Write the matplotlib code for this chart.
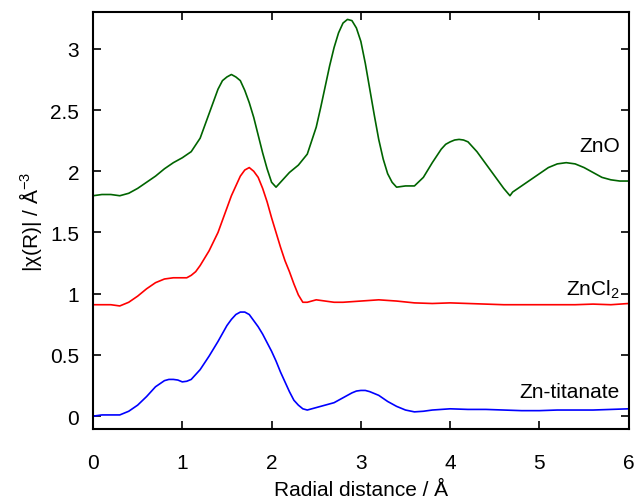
import matplotlib
matplotlib.use('Agg')
import matplotlib.pyplot as plt
from matplotlib.ticker import FuncFormatter

plt.rcParams['font.family'] = ['Liberation Sans', 'DejaVu Sans']
plt.rcParams['mathtext.fontset'] = 'custom'
plt.rcParams['mathtext.rm'] = 'Liberation Sans'
plt.rcParams['mathtext.it'] = 'Liberation Sans:italic'

# Fourier transformed EXAFS, |chi(R)| curves
r_zno = [0.0, 0.1, 0.2, 0.3, 0.4, 0.5, 0.6, 0.7, 0.8, 0.9, 1.0, 1.1, 1.2, 1.3, 1.35,
         1.4, 1.45, 1.5, 1.55, 1.6, 1.65, 1.7, 1.75, 1.8, 1.9, 1.95, 2.0, 2.05, 2.1,
         2.15, 2.2, 2.3, 2.4, 2.5, 2.55, 2.6, 2.65, 2.7, 2.75, 2.8, 2.85, 2.9, 2.95,
         3.0, 3.05, 3.1, 3.15, 3.2, 3.25, 3.3, 3.35, 3.4, 3.5, 3.6, 3.7, 3.8, 3.9,
         3.95, 4.0, 4.05, 4.1, 4.15, 4.2, 4.25, 4.3, 4.4, 4.5, 4.6, 4.67, 4.7, 4.8,
         4.9, 5.0, 5.1, 5.2, 5.3, 5.4, 5.5, 5.6, 5.7, 5.8, 5.9, 6.0]
zno = [1.80, 1.81, 1.81, 1.80, 1.82, 1.86, 1.91, 1.96, 2.02, 2.07, 2.11, 2.16, 2.27,
       2.47, 2.57, 2.67, 2.74, 2.77, 2.79, 2.77, 2.74, 2.66, 2.56, 2.44, 2.15, 2.02,
       1.91, 1.87, 1.91, 1.95, 1.99, 2.05, 2.14, 2.36, 2.52, 2.69, 2.86, 3.01, 3.13,
       3.21, 3.24, 3.23, 3.17, 3.06, 2.88, 2.67, 2.46, 2.26, 2.10, 1.98, 1.91, 1.87,
       1.88, 1.88, 1.95, 2.07, 2.18, 2.22, 2.24, 2.255, 2.26, 2.255, 2.24, 2.20, 2.16,
       2.06, 1.96, 1.86, 1.80, 1.83, 1.88, 1.93, 1.98, 2.03, 2.06, 2.07, 2.06, 2.03,
       1.99, 1.95, 1.93, 1.92, 1.92]

r_zncl2 = [0.0, 0.1, 0.2, 0.3, 0.4, 0.5, 0.6, 0.7, 0.8, 0.9, 1.0, 1.05, 1.1, 1.15,
           1.2, 1.3, 1.4, 1.45, 1.5, 1.55, 1.6, 1.65, 1.7, 1.75, 1.8, 1.85, 1.9, 1.95,
           2.0, 2.05, 2.1, 2.15, 2.2, 2.25, 2.3, 2.35, 2.4, 2.5, 2.6, 2.7, 2.8, 3.0,
           3.2, 3.4, 3.6, 3.8, 4.0, 4.2, 4.4, 4.6, 4.8, 5.0, 5.2, 5.4, 5.6, 5.8, 6.0]
zncl2 = [0.91, 0.91, 0.91, 0.90, 0.93, 0.98, 1.04, 1.09, 1.12, 1.13, 1.13, 1.13, 1.15,
         1.18, 1.23, 1.35, 1.50, 1.60, 1.70, 1.80, 1.88, 1.96, 2.01, 2.03, 2.00, 1.95,
         1.86, 1.75, 1.62, 1.50, 1.38, 1.27, 1.18, 1.08, 0.99, 0.93, 0.93, 0.95, 0.94,
         0.93, 0.93, 0.94, 0.95, 0.94, 0.925, 0.92, 0.925, 0.92, 0.915, 0.91, 0.91,
         0.91, 0.91, 0.91, 0.915, 0.91, 0.92]

r_ti = [0.0, 0.1, 0.2, 0.3, 0.4, 0.5, 0.6, 0.7, 0.8, 0.85, 0.9, 0.95, 1.0, 1.05, 1.1,
        1.2, 1.3, 1.4, 1.5, 1.55, 1.6, 1.65, 1.7, 1.75, 1.8, 1.85, 1.9, 1.95, 2.0,
        2.05, 2.1, 2.15, 2.2, 2.25, 2.3, 2.35, 2.4, 2.5, 2.6, 2.7, 2.8, 2.9, 2.95,
        3.0, 3.05, 3.1, 3.2, 3.3, 3.4, 3.5, 3.6, 3.7, 3.8, 4.0, 4.2, 4.4, 4.6, 4.8,
        5.0, 5.2, 5.4, 5.6, 5.8, 6.0]
titanate = [0.00, 0.01, 0.01, 0.01, 0.04, 0.09, 0.16, 0.24, 0.29, 0.30, 0.30, 0.295,
            0.28, 0.285, 0.30, 0.38, 0.49, 0.61, 0.74, 0.79, 0.83, 0.85, 0.85, 0.83,
            0.78, 0.73, 0.67, 0.60, 0.53, 0.45, 0.36, 0.28, 0.20, 0.13, 0.09, 0.06,
            0.05, 0.07, 0.09, 0.11, 0.15, 0.19, 0.205, 0.21, 0.21, 0.20, 0.17, 0.12,
            0.08, 0.05, 0.035, 0.04, 0.05, 0.06, 0.055, 0.055, 0.05, 0.045, 0.045,
            0.05, 0.05, 0.05, 0.055, 0.06]

fig = plt.figure(figsize=(6.37, 5.02), dpi=100)
ax = fig.add_axes([0.146, 0.1434, 0.841, 0.8306])

ax.plot(r_zno, zno, '-', color='#006400', lw=1.2)
ax.plot(r_zncl2, zncl2, '-', color='#ff0000', lw=1.2)
ax.plot(r_ti, titanate, '-', color='#0000ff', lw=1.2)

ax.text(5.9, 2.21, 'ZnO', ha='right', va='center', fontsize=15)
ax.text(5.9, 1.04, r'ZnCl$_2$', ha='right', va='center', fontsize=15)
ax.text(5.9, 0.2, 'Zn-titanate', ha='right', va='center', fontsize=15)

ax.set_xlim(0, 6)
ax.set_ylim(-0.105, 3.3)
ax.set_xticks([0, 1, 2, 3, 4, 5, 6])
ax.set_yticks([0, 0.5, 1, 1.5, 2, 2.5, 3])
ax.yaxis.set_major_formatter(FuncFormatter(lambda v, p: '%g' % v))
ax.tick_params(direction='in', length=6, width=1.2, top=True, right=True,
               labelsize=15)
ax.tick_params(axis='x', pad=17)
ax.tick_params(axis='y', pad=10)
for s in ax.spines.values():
    s.set_linewidth(1.5)

ax.set_xlabel('Radial distance / Å', fontsize=15, labelpad=6)
ax.set_ylabel(r'|χ(R)| / Å$^{-3}$', fontsize=15, labelpad=4)

fig.savefig('out.png', dpi=100)
